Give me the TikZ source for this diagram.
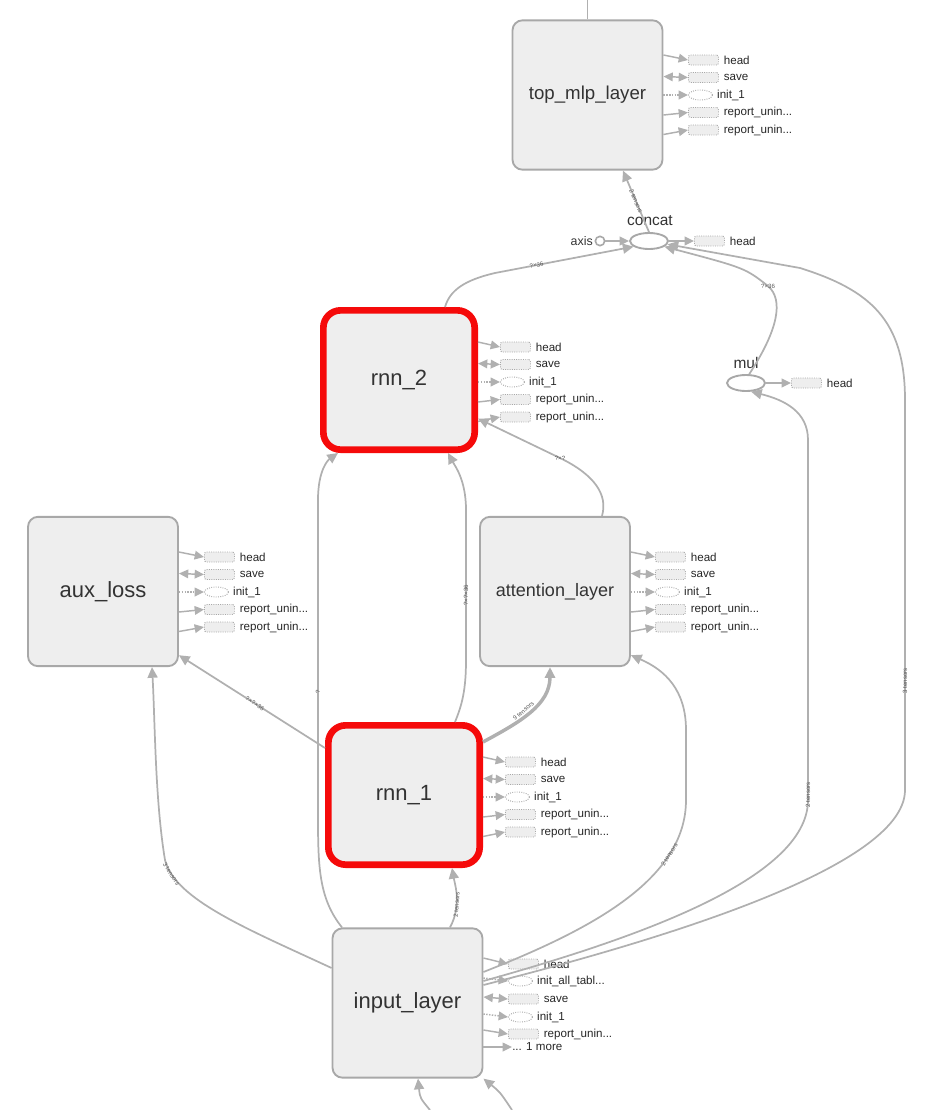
\documentclass[tikz,border=0pt]{standalone}
\usepackage{fontspec}
\setmainfont{Liberation Sans}
\usetikzlibrary{arrows.meta,shapes.geometric}
\definecolor{eg}{HTML}{B0B0B0}
\definecolor{bf}{HTML}{EEEEEE}
\definecolor{bd}{HTML}{A8A8A8}
\definecolor{tx}{HTML}{333333}
\definecolor{rd}{HTML}{F50A0A}
\tikzset{
 gbox/.style={rectangle, rounded corners=7.5pt, draw=bd, line width=1.4pt, fill=bf, minimum width=112.5pt, minimum height=112pt, text=tx, font=\fontsize{16.5}{18}\selectfont, inner sep=0},
 rbox/.style={gbox, draw=rd, line width=5pt, rounded corners=13pt, minimum width=113.5pt, minimum height=104.5pt},
 ibox/.style={rectangle, rounded corners=1.5pt, draw=bd, densely dotted, fill=bf, minimum width=22.5pt, minimum height=7.5pt, inner sep=0, line width=0.7pt, anchor=west},
 iell/.style={ellipse, draw=bd, densely dotted, fill=white, minimum width=18pt, minimum height=7.5pt, inner sep=0, line width=0.7pt, anchor=west},
 ilbl/.style={anchor=west, inner sep=0, text=black!85, font=\fontsize{8.7}{10}\selectfont},
 sedge/.style={draw=eg, line width=1.1pt, -{Triangle[length=7pt,width=6.5pt]}},
 dedge/.style={draw=eg, line width=1.1pt, {Triangle[length=7pt,width=6.5pt]}-{Triangle[length=7pt,width=6.5pt]}},
 cedge/.style={sedge, densely dotted},
 conn/.style={draw=eg, line width=1.3pt, -{Triangle[length=8pt,width=7.5pt]}},
 plainconn/.style={draw=eg, line width=1.3pt},
 elab/.style={sloped, inner sep=0.5pt, font=\fontsize{4.6}{5}\selectfont, text=black!65},
 opnode/.style={ellipse, draw=bd, line width=1.4pt, fill=white, minimum width=28.5pt, minimum height=12pt, inner sep=0},
 oplbl/.style={inner sep=0, text=tx, font=\fontsize{11.6}{13}\selectfont},
}
\newcommand{\SideFive}[3]{%
 \pgfmathsetmacro\ra{#3}\pgfmathsetmacro\rb{#3+17.5}\pgfmathsetmacro\rc{#3+35}%
 \pgfmathsetmacro\rd{#3+52.5}\pgfmathsetmacro\re{#3+70}%
 \pgfmathsetmacro\sa{#3-5}\pgfmathsetmacro\sb{#3+16.5}\pgfmathsetmacro\sd{#3+55}\pgfmathsetmacro\se{#3+74.5}%
 \node[ibox] (#1-h) at (#2,\ra) {};
 \node[ilbl] (#1-hl) at ([xshift=3.5pt]#1-h.east) {head};
 \node[ibox] (#1-s) at (#2,\rb) {};
 \node[ilbl] (#1-sl) at ([xshift=3.5pt]#1-s.east) {save};
 \node[iell] (#1-i) at (#2,\rc) {};
 \node[ilbl] (#1-il) at ([xshift=3pt]#1-i.east) {init\_1};
 \node[ibox] (#1-r) at (#2,\rd) {};
 \node[ilbl] (#1-rl) at ([xshift=3.5pt]#1-r.east) {report\_unin...};
 \node[ibox] (#1-q) at (#2,\re) {};
 \node[ilbl] (#1-ql) at ([xshift=3.5pt]#1-q.east) {report\_unin...};
 \draw[sedge] (#1.east |- 0,\sa) -- (#1-h.west);
 \draw[dedge] (#1.east |- 0,\sb) -- (#1-s.west);
 \draw[cedge] (#1.east |- 0,\rc) -- (#1-i.west);
 \draw[sedge] (#1.east |- 0,\sd) -- (#1-r.west);
 \draw[sedge] (#1.east |- 0,\se) -- (#1-q.west);
}
\begin{document}
\begin{tikzpicture}[x=0.75pt,y=-0.75pt]
\useasboundingbox (0,0) rectangle (945,1110);
% main nodes
\node[gbox, font=\fontsize{14}{16}\selectfont] (tm) at (587.5,95) {top\_mlp\_layer};
\node[rbox] (r2) at (399,380) {rnn\_2};
\node[gbox] (aux) at (103,591.5) {aux\_loss};
\node[gbox, font=\fontsize{13.5}{15}\selectfont] (att) at (555,591.5) {attention\_layer};
\node[rbox] (r1) at (404,795) {rnn\_1};
\node[gbox] (inp) at (407.5,1003) {input\_layer};
% op nodes
\node[opnode] (concat) at (649,241) {};
\node[oplbl] (concatl) at (650,221) {concat};
\node[circle, draw=bd, line width=1.2pt, fill=white, minimum size=7pt, inner sep=0] (axis) at (600,241) {};
\node[oplbl, anchor=east, font=\fontsize{9.3}{11}\selectfont] (axisl) at (593,241) {axis};
\node[ibox] (ch) at (694,241) {};
\node[ilbl] (chl) at ([xshift=3.5pt]ch.east) {head};
\node[opnode] (mul) at (746,383) {};
\node[oplbl] (mull) at (746,363) {mul};
\node[ibox] (mh) at (791,383) {};
\node[ilbl] (mhl) at ([xshift=3.5pt]mh.east) {head};
\draw[sedge] (axis.east) -- (concat.west);
\draw[sedge] (concat.east) -- (ch.west);
\draw[sedge] (mul.east) -- (mh.west);
% side items
\SideFive{tm}{688}{60}
\SideFive{r2}{500}{347}
\SideFive{aux}{204}{557}
\SideFive{att}{655}{557}
\SideFive{r1}{505}{762}
% input layer side items
\node[ibox] (ih) at (508,964) {};
\node[ilbl] (ihl) at ([xshift=3.5pt]ih.east) {head};
\node[iell] (ia) at (508,981) {};
\node[ilbl] (ial) at ([xshift=3pt]ia.east) {init\_all\_tabl...};
\node[ibox] (is) at (508,999) {};
\node[ilbl] (isl) at ([xshift=3.5pt]is.east) {save};
\node[iell] (ii) at (508,1017) {};
\node[ilbl] (iil) at ([xshift=3pt]ii.east) {init\_1};
\node[ibox] (ir) at (508,1034) {};
\node[ilbl] (irl) at ([xshift=3.5pt]ir.east) {report\_unin...};
\node[ilbl] (imore) at (512,1047) {... 1 more};
\draw[sedge] (inp.east |- 0,958) -- (ih.west);
\draw[cedge] (inp.east |- 0,978) -- (ia.west);
\draw[dedge] (inp.east |- 0,997) -- (is.west);
\draw[cedge] (inp.east |- 0,1014) -- (ii.west);
\draw[sedge] (inp.east |- 0,1030) -- (ir.west);
\draw[sedge] (inp.east |- 0,1047) -- (imore.west);
% free ends
\coordinate (topout) at (587.5,0);
\coordinate (b1) at (430,1110);
\coordinate (b2) at (512,1110);
% main edges
\draw[plainconn] (tm.north) -- (topout);
\draw[conn] (concat.north) -- node[elab, pos=0.5] {2 tensors} (tm.south -| 623,0);
\draw[conn] (r2.north -| 445,0) .. controls (450,290) and (465,280) .. (495,273) -- node[elab, pos=0.3] {?×36} (concat.200);
\draw[conn] (mul.70) .. controls (778,330) and (784,300) .. (768,286) node[elab] {?×36} .. controls (745,268) .. (concat.-20);
\draw[conn] (inp.east |- 0,985) .. controls (640,945) and (905,870) .. (905,790) -- node[elab, pos=0.28] {3 tensors} (905,400) .. controls (905,320) and (870,290) .. (800,268) -- (concat.-10);
\draw[conn] (inp.east |- 0,981) .. controls (630,940) and (808,880) .. (808,800) -- (808,440) .. controls (808,412) and (785,400) .. (mul.-60);
\node[elab, rotate=90, sloped=false] (lab2t) at (808,795) {2 tensors};
\draw[conn] (inp.east |- 0,972) .. controls (590,930) and (686,880) .. (686,800) node[elab, pos=0.75] {2 tensors} -- (686,730) .. controls (686,690) and (665,670) .. (att.-40);
\draw[conn] (inp.north -| 450,0) .. controls (462,905) and (455,885) .. node[elab, pos=0.35] {2 tensors} (r1.south -| 452,0);
\draw[conn] (inp.west |- 0,968) .. controls (250,930) and (175,900) .. (165,860) node[elab, pos=0.88] {3 tensors} .. controls (155,800) and (155,720) .. (aux.south -| 152,0);
\draw[conn] (inp.north -| 342,0) .. controls (320,900) and (318,870) .. (318,820) -- node[elab, pos=0.4] {?} (318,500) .. controls (318,470) and (328,460) .. (r2.south -| 338,0);
\draw[conn] (r1.west |- 0,748) -- node[elab, pos=0.48] {?×?×36} (aux.-40);
\draw[conn] (r1.north -| 455,0) .. controls (462,705) and (466,690) .. (466,660) -- node[elab, pos=0.43] {?×?×36} (466,510) .. controls (466,480) and (455,466) .. (r2.south -| 448,0);
\draw[conn, line width=2.6pt] (r1.east |- 0,742) .. controls (520,722) and (550,705) .. node[elab, pos=0.45, above=0.2pt] {9 tensors} (att.south -| 550,0);
\draw[conn] (att.north -| 602,0) .. controls (608,495) and (595,475) .. (560,458) node[elab] {?×?} -- (r2.-26);
\draw[conn] (b1) .. controls (420,1098) .. (inp.south -| 418,0);
\draw[conn] (b2) .. controls (500,1092) .. (inp.south east);
\end{tikzpicture}
\end{document}
